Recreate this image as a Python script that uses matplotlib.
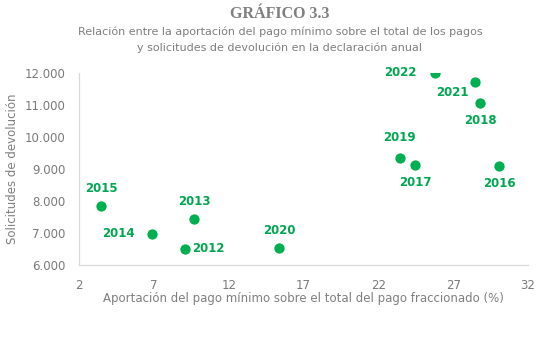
import matplotlib
matplotlib.use("Agg")
import matplotlib.pyplot as plt

# Data: share of minimum payment (%) vs. refund requests, by year
years = ["2012", "2013", "2014", "2015", "2016", "2017", "2018",
         "2019", "2020", "2021", "2022"]
aportacion = [9.06, 9.70, 6.86, 3.47, 30.06, 24.45, 28.79, 23.44, 15.36, 28.43, 25.78]
solicitudes = [6510, 7440, 6980, 7845, 9105, 9125, 11070, 9355, 6540, 11730, 12000]

x_ticks = [2, 7, 12, 17, 22, 27, 32]
y_ticks = [6000, 7000, 8000, 9000, 10000, 11000, 12000]
y_tick_labels = ["6.000", "7.000", "8.000", "9.000", "10.000", "11.000", "12.000"]

# label offsets in points (dx, dy, ha, va)
offsets = {
    "2012": (5, 0, "left", "center"),
    "2013": (0, 8, "center", "bottom"),
    "2014": (-12, 0, "right", "center"),
    "2015": (0, 8, "center", "bottom"),
    "2016": (0, -8, "center", "top"),
    "2017": (0, -8, "center", "top"),
    "2018": (0, -8, "center", "top"),
    "2019": (0, 10, "center", "bottom"),
    "2020": (0, 8, "center", "bottom"),
    "2021": (-4, -3, "right", "top"),
    "2022": (-13, 0, "right", "center"),
}

green_dot = "#00B050"
green_txt = "#00A650"
grey_txt = "#7F7F7F"
grey_tick = "#7A7A7A"

fig = plt.figure(figsize=(5.53, 3.39), dpi=100)
ax = fig.add_axes([0.1429, 0.2183, 0.8119, 0.5664])

ax.scatter(aportacion, solicitudes, s=55, color=green_dot, zorder=3, linewidths=0)
for yr, xv, yv in zip(years, aportacion, solicitudes):
    dx, dy, ha, va = offsets[yr]
    ax.annotate(yr, (xv, yv), xytext=(dx, dy), textcoords="offset points",
                ha=ha, va=va, fontsize=8.5, fontweight="bold", color=green_txt)

ax.set_xlim(2, 32)
ax.set_ylim(6000, 12000)
ax.set_xticks(x_ticks)
ax.set_xticklabels([str(t) for t in x_ticks])
ax.set_yticks(y_ticks)
ax.set_yticklabels(y_tick_labels)
ax.tick_params(axis="x", length=0, labelsize=8.5, labelcolor=grey_tick, pad=10)
ax.tick_params(axis="y", length=0, labelsize=8.5, labelcolor=grey_tick, pad=10)

for side in ("top", "right"):
    ax.spines[side].set_visible(False)
for side in ("left", "bottom"):
    ax.spines[side].set_color("#D9D9D9")
    ax.spines[side].set_linewidth(0.9)

ax.set_xlabel("Aportación del pago mínimo sobre el total del pago fraccionado (%)",
              fontsize=8.5, color=grey_txt, labelpad=0)
ax.set_ylabel("Solicitudes de devolución", fontsize=8.5, color=grey_txt, labelpad=4)

fig.text(0.506, 0.958, "GRÁFICO 3.3", ha="center", va="center",
         fontsize=11.5, fontweight="bold", color=grey_txt, family="Liberation Serif")
fig.text(0.506, 0.905, "Relación entre la aportación del pago mínimo sobre el total de los pagos",
         ha="center", va="center", fontsize=8, color=grey_txt)
fig.text(0.506, 0.858, "y solicitudes de devolución en la declaración anual",
         ha="center", va="center", fontsize=8, color=grey_txt)

fig.savefig("out.png", dpi=100, facecolor="white")
